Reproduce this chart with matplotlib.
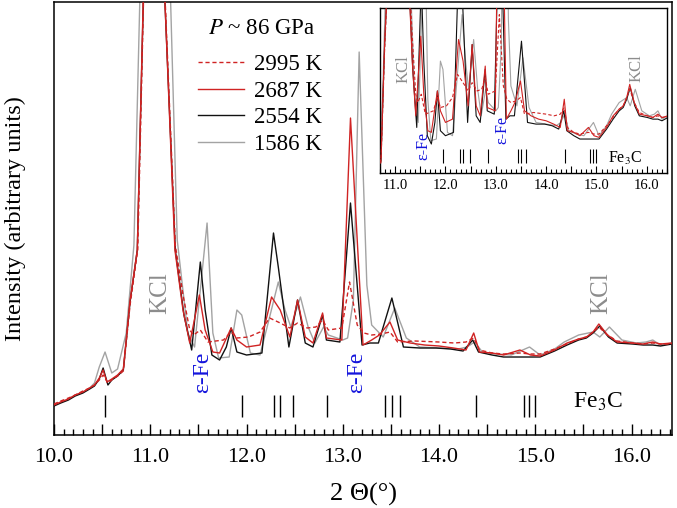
import matplotlib
matplotlib.use('Agg')
import matplotlib.pyplot as plt
from matplotlib.ticker import MultipleLocator, FuncFormatter

plt.rcParams['font.family'] = 'serif'
plt.rcParams['font.serif'] = ['Liberation Serif', 'DejaVu Serif']
plt.rcParams['mathtext.fontset'] = 'stix'

# 2995 K (dashed red)
x_2995 = [10.00, 10.07, 10.15, 10.22, 10.30, 10.37, 10.42, 10.47, 10.51, 10.56, 10.60, 10.66, 10.72,
          10.79, 10.87, 11.01, 11.26, 11.34, 11.41, 11.45, 11.52, 11.60, 11.76, 11.84, 11.90, 12.02,
          12.14, 12.24, 12.35, 12.45, 12.53, 12.63, 12.72, 12.79, 12.85, 12.99, 13.07, 13.15, 13.22,
          13.30, 13.40, 13.49, 13.57, 13.75, 14.00, 14.16, 14.28, 14.36, 14.42, 14.55, 14.67, 14.84,
          14.95, 15.05, 15.20, 15.33, 15.45, 15.53, 15.60, 15.66, 15.75, 15.85, 16.01, 16.12, 16.22,
          16.30, 16.42]
y_2995 = [31, 34, 37, 40, 44, 47, 50, 55, 60, 52, 55, 59, 64,
          130, 185, 770, 190, 140, 105, 100, 105, 93, 95, 103, 97, 98,
          103, 117, 112, 107, 112, 107, 108, 115, 105, 107, 153, 110, 102,
          100, 101, 103, 93, 94, 93, 92, 93, 97, 85, 82, 81, 82,
          81, 81, 86, 91, 96, 98, 103, 108, 100, 94, 92, 91, 92,
          91, 91]

# 2687 K (red)
x_2687 = [10.00, 10.07, 10.15, 10.22, 10.30, 10.37, 10.42, 10.47, 10.51, 10.55, 10.60, 10.66, 10.72,
          10.79, 10.865, 11.01, 11.256, 11.34, 11.41, 11.51, 11.57, 11.65, 11.72, 11.84, 11.90, 12.00,
          12.14, 12.26, 12.35, 12.45, 12.53, 12.61, 12.69, 12.79, 12.83, 12.99, 13.08, 13.21, 13.30,
          13.38, 13.49, 13.57, 13.70, 13.85, 14.00, 14.15, 14.28, 14.36, 14.42, 14.55, 14.67, 14.84,
          14.95, 15.05, 15.20, 15.33, 15.45, 15.53, 15.60, 15.66, 15.75, 15.85, 16.01, 16.12, 16.22,
          16.30, 16.42]
y_2687 = [30, 33, 36, 40, 43, 47, 50, 57, 65, 53, 56, 60, 66,
          135, 185, 773, 185, 125, 92, 140, 105, 83, 82, 107, 95, 88,
          90, 138, 125, 98, 135, 98, 92, 122, 97, 95, 317, 90, 95,
          100, 113, 95, 92, 90, 89, 87, 85, 102, 83, 82, 80, 85,
          80, 79, 85, 92, 96, 98, 103, 111, 100, 93, 92, 91, 93,
          91, 92]

# 2554 K (black)
x_2554 = [10.00, 10.07, 10.15, 10.22, 10.30, 10.37, 10.42, 10.47, 10.51, 10.56, 10.60, 10.66, 10.72,
          10.79, 10.865, 11.01, 11.26, 11.35, 11.43, 11.52, 11.57, 11.64, 11.72, 11.79, 11.84, 11.90,
          12.00, 12.16, 12.28, 12.33, 12.44, 12.53, 12.61, 12.69, 12.79, 12.83, 12.97, 13.08, 13.20,
          13.28, 13.37, 13.51, 13.63, 13.80, 13.97, 14.12, 14.25, 14.35, 14.41, 14.55, 14.67, 14.80,
          14.95, 15.05, 15.20, 15.33, 15.45, 15.53, 15.60, 15.67, 15.76, 15.85, 16.01, 16.12, 16.22,
          16.30, 16.42]
y_2554 = [29, 32, 35, 39, 42, 46, 49, 56, 67, 50, 55, 59, 65,
          133, 185, 760, 185, 120, 85, 173, 125, 80, 75, 88, 107, 83,
          80, 82, 202, 168, 88, 135, 92, 88, 120, 95, 93, 232, 90,
          92, 92, 137, 88, 87, 87, 86, 84, 95, 83, 80, 78, 78,
          78, 78, 84, 90, 95, 97, 102, 109, 98, 92, 91, 90, 90,
          89, 91]

# 1586 K (gray)
x_1586 = [10.00, 10.07, 10.15, 10.22, 10.30, 10.37, 10.42, 10.47, 10.53, 10.60, 10.66, 10.75, 10.83,
          11.04, 11.28, 11.39, 11.46, 11.59, 11.65, 11.71, 11.82, 11.90, 11.95, 12.04, 12.14, 12.24,
          12.33, 12.40, 12.46, 12.56, 12.64, 12.71, 12.80, 12.85, 13.00, 13.05, 13.11, 13.17, 13.25,
          13.30, 13.35, 13.42, 13.54, 13.66, 13.80, 14.00, 14.20, 14.29, 14.37, 14.45, 14.60, 14.75,
          14.94, 15.05, 15.20, 15.30, 15.45, 15.60, 15.67, 15.77, 15.90, 16.05, 16.15, 16.22, 16.30,
          16.42]
y_1586 = [30, 33, 36, 40, 43, 47, 52, 68, 83, 62, 66, 102, 190,
          1028, 195, 102, 88, 212, 102, 77, 78, 125, 120, 82, 80, 118,
          153, 125, 108, 138, 108, 92, 108, 100, 95, 97, 135, 383, 150,
          110, 105, 98, 127, 97, 88, 87, 86, 88, 93, 83, 81, 80,
          88, 80, 86, 93, 100, 103, 98, 108, 95, 92, 93, 95, 90,
          92]

# Fe3C reflection positions
fe3c_pos = [10.53, 11.95, 12.29, 12.35, 12.48, 12.84, 13.44, 13.51, 13.59, 14.38, 14.88, 14.93, 15.00]

red = '#d02323'
gray = '#a3a3a3'
blue = '#1414dc'
kcl_gray = '#8c8c8c'


def draw_curves(ax, lw):
    ax.plot(x_1586, y_1586, color=gray, lw=lw, label='1586 K', zorder=2)
    ax.plot(x_2554, y_2554, color='#111111', lw=lw, label='2554 K', zorder=3)
    ax.plot(x_2687, y_2687, color=red, lw=lw, label='2687 K', zorder=4)
    ax.plot(x_2995, y_2995, color=red, lw=lw, ls=(0, (3, 2)), label='2995 K', zorder=5)


def half_fmt(v, p):
    return f'{v:.1f}' if abs(v - round(v)) < 1e-6 else ''


fig = plt.figure(figsize=(6.77, 5.08), dpi=100)
ax = fig.add_axes([0.0798, 0.1437, 0.9128, 0.8523])
draw_curves(ax, 1.0)
ax.vlines(fe3c_pos, 18, 40, color='black', lw=1.0)

ax.set_xlim(10.0, 16.42)
ax.set_ylim(0, 433)
ax.set_yticks([])
ax.xaxis.set_major_locator(MultipleLocator(0.5))
ax.xaxis.set_minor_locator(MultipleLocator(0.1))
ax.xaxis.set_major_formatter(FuncFormatter(half_fmt))
ax.tick_params(axis='x', which='major', direction='in', length=8, width=1.0, labelsize=16, pad=9)
ax.tick_params(axis='x', which='minor', direction='in', length=4.5, width=1.0)
for s in ax.spines.values():
    s.set_linewidth(1.1)

ax.set_xlabel('2 Θ(°)', fontsize=19, labelpad=12)
ax.set_ylabel('Intensity (arbitrary units)', fontsize=17.5, labelpad=20)

ax.text(11.10, 142, 'KCl', rotation=90, color=kcl_gray, fontsize=18, ha='center', va='center')
ax.text(15.68, 142, 'KCl', rotation=90, color=kcl_gray, fontsize=18, ha='center', va='center')
ax.text(11.54, 63, 'ε-Fe', rotation=90, color=blue, fontsize=17, ha='center', va='center')
ax.text(13.14, 63, 'ε-Fe', rotation=90, color=blue, fontsize=17, ha='center', va='center')
ax.text(15.39, 33, 'Fe$_3$C', fontsize=17, ha='left', va='center')

# legend: title drawn separately so the spacing matches
ax.text(0.249, 0.940, '$P$ ~ 86 GPa', transform=ax.transAxes, fontsize=16.5, ha='left', va='center')
handles, labels = ax.get_legend_handles_labels()
order = [3, 2, 1, 0]
leg = ax.legend([handles[i] for i in order], [labels[i] for i in order],
                loc='upper left', bbox_to_anchor=(0.2, 0.928),
                frameon=False, fontsize=16.5, handlelength=2.0,
                handletextpad=0.45, labelspacing=0.25)

# inset
axi = fig.add_axes([0.5613, 0.6594, 0.4239, 0.3248])
draw_curves(axi, 0.8)
axi.vlines(fe3c_pos, 63.5, 71.7, color='black', lw=0.8)
axi.set_xlim(10.7, 16.4)
axi.set_ylim(57.5, 157)
axi.set_yticks([])
axi.xaxis.set_major_locator(MultipleLocator(0.5))
axi.xaxis.set_minor_locator(MultipleLocator(0.1))
axi.xaxis.set_major_formatter(FuncFormatter(half_fmt))
axi.tick_params(axis='x', which='major', direction='in', length=5, width=0.8, labelsize=10.5, pad=4)
axi.tick_params(axis='x', which='minor', direction='in', length=3, width=0.8)
for s in axi.spines.values():
    s.set_linewidth(1.0)
axi.text(11.16, 120, 'KCl', rotation=90, color=kcl_gray, fontsize=12, ha='center', va='center')
axi.text(15.80, 121, 'KCl', rotation=90, color=kcl_gray, fontsize=12, ha='center', va='center')
axi.text(11.56, 73.5, 'ε-Fe', rotation=90, color=blue, fontsize=11.5, ha='center', va='center')
axi.text(13.14, 83.5, 'ε-Fe', rotation=90, color=blue, fontsize=11.5, ha='center', va='center')
axi.text(15.23, 66.5, 'Fe$_3$C', fontsize=11.5, ha='left', va='center')

fig.savefig('out.png', dpi=100)
